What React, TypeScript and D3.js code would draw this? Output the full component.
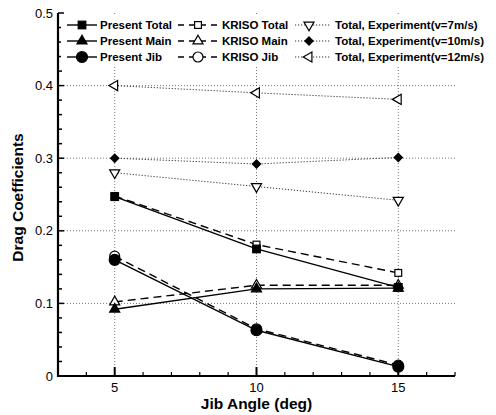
import React, { useEffect, useRef } from 'react';
import * as d3 from 'd3';

const angles = [5, 10, 15];
const presentTotal = [0.247, 0.175, 0.122];
const presentMain = [0.092, 0.12, 0.121];
const presentJib = [0.16, 0.063, 0.013];
const krisoTotal = [0.248, 0.181, 0.142];
const krisoMain = [0.102, 0.125, 0.125];
const krisoJib = [0.165, 0.065, 0.015];
const expV7 = [0.28, 0.261, 0.242];
const expV10 = [0.3, 0.292, 0.301];
const expV12 = [0.4, 0.39, 0.381];

const yTicks = [0, 0.1, 0.2, 0.3, 0.4, 0.5];
const yTickLabels = ['0', '0.1', '0.2', '0.3', '0.4', '0.5'];
const xTicks = [5, 10, 15];
const xTickLabels = ['5', '10', '15'];

const seriesNames = [
  'Present Total', 'Present Main', 'Present Jib',
  'KRISO Total', 'KRISO Main', 'KRISO Jib',
  'Total, Experiment(v=7m/s)', 'Total, Experiment(v=10m/s)', 'Total, Experiment(v=12m/s)',
];

const App = () => {
  const svgRef = useRef<SVGSVGElement>(null);

  useEffect(() => {
    const svg = d3.select(svgRef.current);
    svg.selectAll('*').remove();

    const left = 58, right = 455, top = 13, bottom = 376;
    const x = d3.scaleLinear().domain([3, 17]).range([left, right]);
    const y = d3.scaleLinear().domain([0, 0.5]).range([bottom, top]);

    // marker / line styles per series
    const styles = [
      { v: presentTotal, kind: 'square', fill: true, line: 'solid' },
      { v: presentMain, kind: 'triangle', fill: true, line: 'solid' },
      { v: presentJib, kind: 'circle', fill: true, line: 'solid' },
      { v: krisoTotal, kind: 'square', fill: false, line: 'dash' },
      { v: krisoMain, kind: 'triangle', fill: false, line: 'dash' },
      { v: krisoJib, kind: 'circle', fill: false, line: 'dash' },
      { v: expV7, kind: 'tridown', fill: false, line: 'dot' },
      { v: expV10, kind: 'diamond', fill: true, line: 'dot' },
      { v: expV12, kind: 'trileft', fill: false, line: 'dot' },
    ];

    const drawMarker = (g: any, kind: string, fill: boolean, cx: number, cy: number) => {
      const f = fill ? '#000' : '#fff';
      const sw = 1.2;
      if (kind === 'square') {
        const h = fill ? 3.8 : 3.4;
        g.append('rect').attr('x', cx - h).attr('y', cy - h).attr('width', 2 * h).attr('height', 2 * h)
          .attr('fill', f).attr('stroke', '#000').attr('stroke-width', sw);
      } else if (kind === 'circle') {
        g.append('circle').attr('cx', cx).attr('cy', cy).attr('r', fill ? 5.5 : 5)
          .attr('fill', f).attr('stroke', '#000').attr('stroke-width', sw);
      } else {
        const rot = kind === 'tridown' ? 180 : kind === 'trileft' ? -90 : 0;
        const sym = kind === 'diamond' ? d3.symbolSquare : d3.symbolTriangle;
        const size = kind === 'diamond' ? 34 : 44;
        const r = kind === 'diamond' ? 45 : rot;
        g.append('path').attr('d', d3.symbol().type(sym).size(size)())
          .attr('transform', `translate(${cx},${cy}) rotate(${r})`)
          .attr('fill', f).attr('stroke', '#000').attr('stroke-width', sw);
      }
    };

    const dashFor = (line: string) => line === 'dash' ? '8,5' : line === 'dot' ? '1.2,1.8' : null;
    const widthFor = (line: string) => line === 'dot' ? 1 : 1.4;

    // grid
    const grid = svg.append('g').attr('stroke', '#555').attr('stroke-width', 0.8).attr('stroke-dasharray', '1,2');
    yTicks.slice(1, 5).forEach(t => {
      grid.append('line').attr('x1', left).attr('x2', right).attr('y1', y(t)).attr('y2', y(t));
    });
    xTicks.forEach(t => {
      grid.append('line').attr('x1', x(t)).attr('x2', x(t)).attr('y1', top).attr('y2', bottom);
    });

    // series lines
    const lineGen = d3.line<number>().x((_, i) => x(angles[i])).y(d => y(d));
    styles.forEach(s => {
      svg.append('path').attr('d', lineGen(s.v)).attr('fill', 'none')
        .attr('stroke', s.line === 'dot' ? '#333' : '#000')
        .attr('stroke-width', widthFor(s.line))
        .attr('stroke-dasharray', dashFor(s.line));
    });
    // markers (open ones underneath the filled)
    const mg = svg.append('g');
    [3, 4, 5, 6, 8, 0, 1, 2, 7].forEach(k => {
      const s = styles[k];
      s.v.forEach((d, i) => drawMarker(mg, s.kind, s.fill, x(angles[i]), y(d)));
    });

    // axes
    const ax = svg.append('g').attr('stroke', '#000');
    d3.range(0, 0.5001, 0.02).forEach(t => {
      const major = Math.abs(t * 10 - Math.round(t * 10)) < 1e-6;
      ax.append('line').attr('x1', left).attr('x2', left + (major ? 6 : 4))
        .attr('y1', y(t)).attr('y2', y(t)).attr('stroke-width', 1.5);
    });
    d3.range(3, 17.001, 1).forEach(t => {
      const major = xTicks.includes(t);
      ax.append('line').attr('x1', x(t)).attr('x2', x(t))
        .attr('y1', bottom).attr('y2', bottom - (major ? 9 : 4)).attr('stroke-width', major ? 2 : 1.2);
    });
    ax.append('line').attr('x1', left).attr('x2', left).attr('y1', top).attr('y2', bottom + 1).attr('stroke-width', 2.2);
    ax.append('line').attr('x1', left - 1).attr('x2', right).attr('y1', bottom).attr('y2', bottom).attr('stroke-width', 2.2);

    const font = 'Liberation Sans, Arial, sans-serif';
    yTicks.forEach((t, i) => {
      svg.append('text').attr('x', left - 5).attr('y', y(t)).attr('dy', '0.35em')
        .attr('text-anchor', 'end').attr('font-family', font).attr('font-size', 13)
        .text(yTickLabels[i]);
    });
    xTicks.forEach((t, i) => {
      svg.append('text').attr('x', x(t)).attr('y', bottom + 16)
        .attr('text-anchor', 'middle').attr('font-family', font).attr('font-size', 13)
        .text(xTickLabels[i]);
    });
    svg.append('text').attr('x', (left + right) / 2).attr('y', 409)
      .attr('text-anchor', 'middle').attr('font-family', font).attr('font-size', 15.5)
      .attr('font-weight', 'bold').text('Jib Angle (deg)');
    svg.append('text').attr('transform', `translate(23,${(top + bottom) / 2 + 3}) rotate(-90)`)
      .attr('text-anchor', 'middle').attr('font-family', font).attr('font-size', 15.5)
      .attr('font-weight', 'bold').text('Drag Coefficients');

    // legend
    const lg = svg.append('g');
    lg.append('rect').attr('x', left + 3).attr('y', 15).attr('width', 430).attr('height', 50).attr('fill', '#fff');
    const cols = [
      { x0: 67, x1: 97, mx: 82, tx: 100 },
      { x0: 178, x1: 218, mx: 198, tx: 222 },
      { x0: 295, x1: 330, mx: 309, tx: 335 },
    ];
    const rowY = [25, 41, 57];
    seriesNames.forEach((name, k) => {
      const c = cols[Math.floor(k / 3)];
      const yy = rowY[k % 3];
      const s = styles[k];
      lg.append('line').attr('x1', c.x0).attr('x2', c.x1).attr('y1', yy).attr('y2', yy)
        .attr('stroke', s.line === 'dot' ? '#333' : '#000')
        .attr('stroke-width', widthFor(s.line))
        .attr('stroke-dasharray', s.line === 'dash' ? '6,5' : dashFor(s.line));
      drawMarker(lg, s.kind, s.fill, c.mx, yy);
      lg.append('text').attr('x', c.tx).attr('y', yy).attr('dy', '0.35em')
        .attr('font-family', font).attr('font-size', 11.5).attr('font-weight', 'bold')
        .text(name);
    });
  }, []);

  return (
    <svg ref={svgRef} width={496} height={415}
      style={{ position: 'absolute', left: 0, top: 0, background: '#fff' }} />
  );
};

export default App;
